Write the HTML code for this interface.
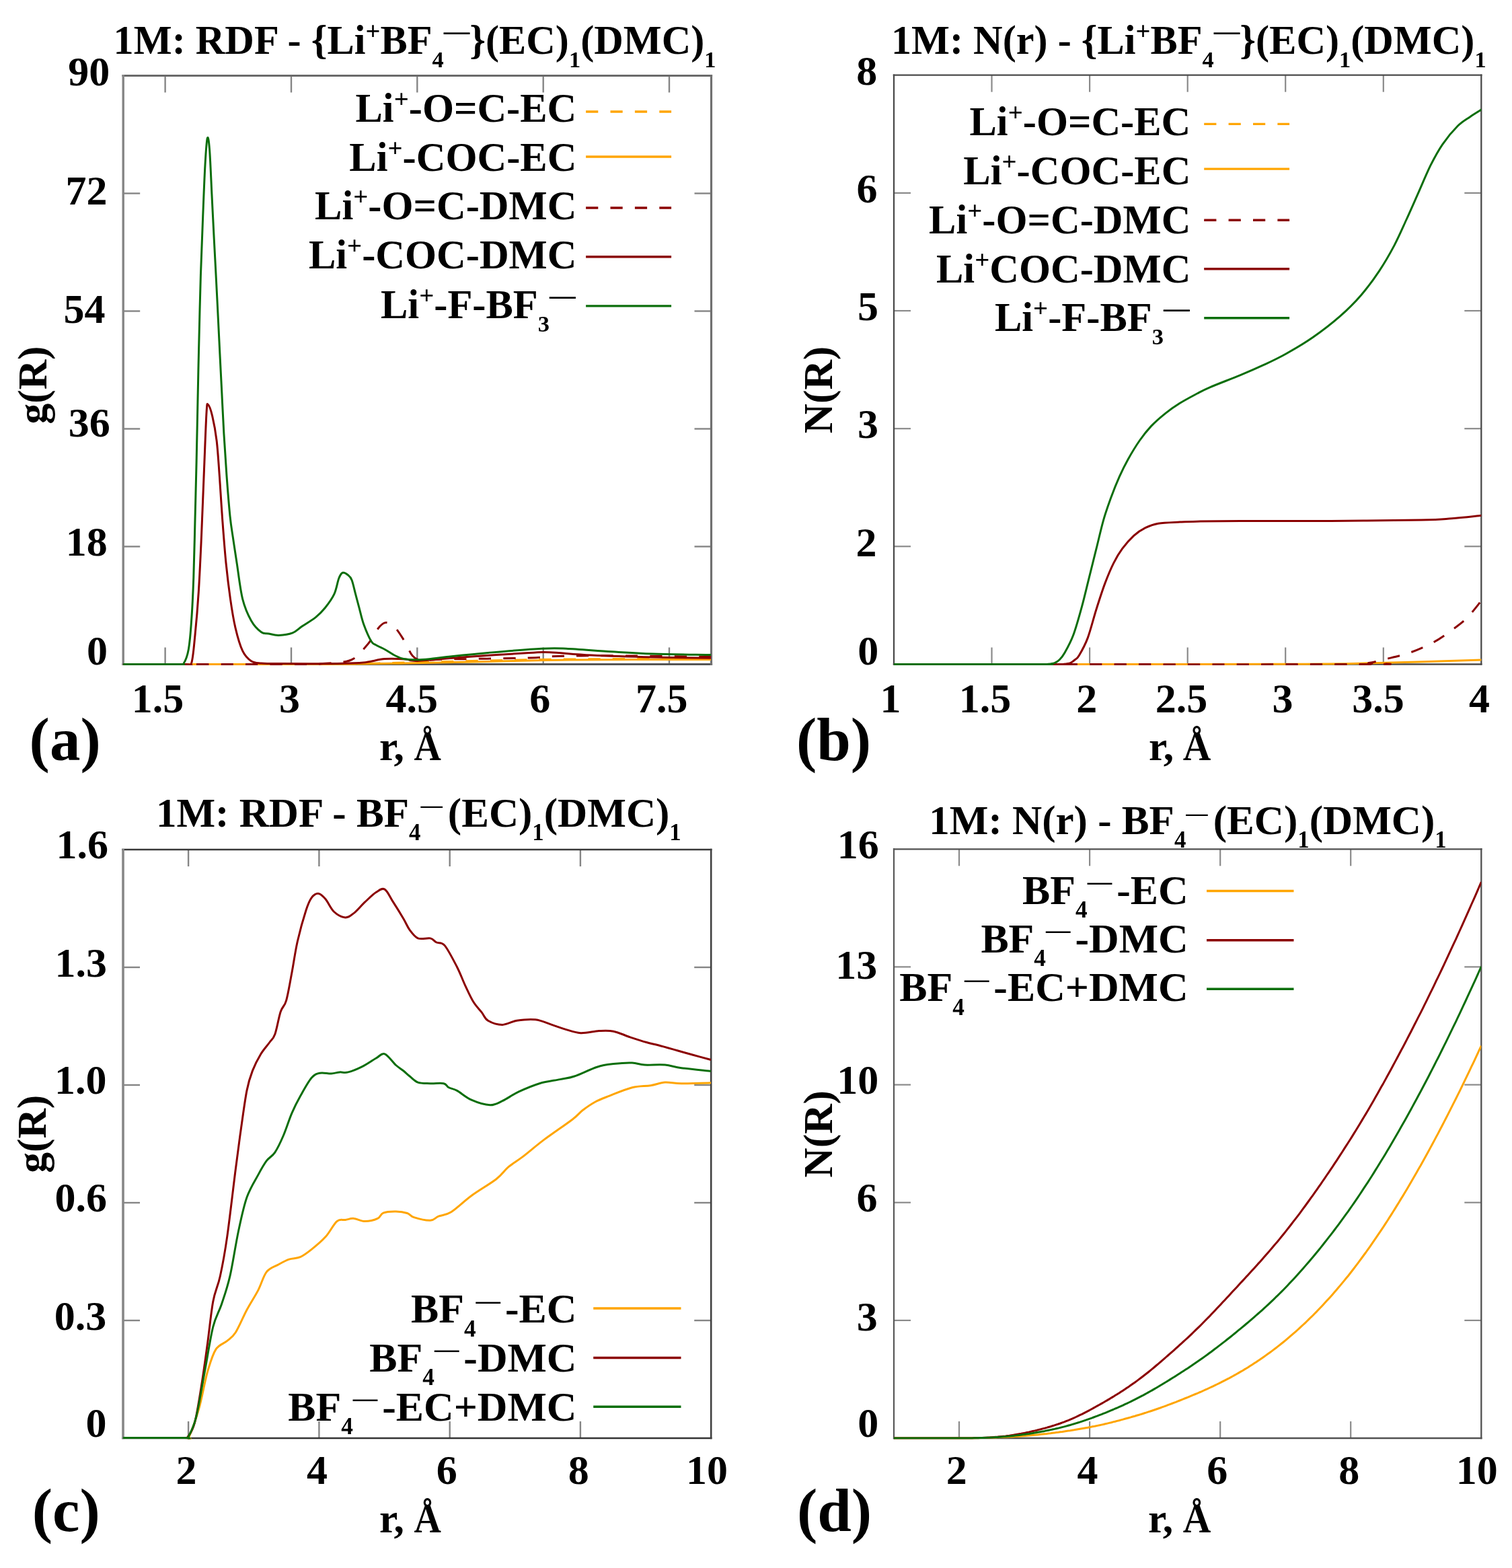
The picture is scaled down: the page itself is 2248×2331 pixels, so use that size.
<!DOCTYPE html>
<html><head><meta charset="utf-8"><style>
html,body{margin:0;padding:0;background:#fff;}
svg{display:block;}
text{font-family:"Liberation Serif", serif;font-weight:bold;fill:#000;}
</style></head><body>
<svg width="2248" height="2331" viewBox="0 0 2248 2331">
<rect width="2248" height="2331" fill="#fff"/>
<defs><clipPath id="ca"><rect x="183.2" y="112.5" width="874.3" height="876.5"/></clipPath><clipPath id="cb"><rect x="1329" y="111.7" width="873.3000000000002" height="877.3"/></clipPath><clipPath id="cc"><rect x="183.0" y="1263" width="874.2" height="876.5"/></clipPath><clipPath id="cd"><rect x="1329" y="1262.3" width="873.3000000000002" height="877.2"/></clipPath></defs>
<line x1="245.6" y1="112.5" x2="245.6" y2="137.5" stroke="#858585" stroke-width="2.4"/>
<line x1="433.0" y1="112.5" x2="433.0" y2="137.5" stroke="#858585" stroke-width="2.4"/>
<line x1="620.3" y1="112.5" x2="620.3" y2="137.5" stroke="#858585" stroke-width="2.4"/>
<line x1="807.7" y1="112.5" x2="807.7" y2="137.5" stroke="#858585" stroke-width="2.4"/>
<line x1="995.0" y1="112.5" x2="995.0" y2="137.5" stroke="#858585" stroke-width="2.4"/>
<line x1="245.6" y1="987.5" x2="245.6" y2="962.5" stroke="#858585" stroke-width="2.4"/>
<line x1="433.0" y1="987.5" x2="433.0" y2="962.5" stroke="#858585" stroke-width="2.4"/>
<line x1="620.3" y1="987.5" x2="620.3" y2="962.5" stroke="#858585" stroke-width="2.4"/>
<line x1="807.7" y1="987.5" x2="807.7" y2="962.5" stroke="#858585" stroke-width="2.4"/>
<line x1="995.0" y1="987.5" x2="995.0" y2="962.5" stroke="#858585" stroke-width="2.4"/>
<line x1="183.2" y1="812.5" x2="208.2" y2="812.5" stroke="#858585" stroke-width="2.4"/>
<line x1="183.2" y1="637.5" x2="208.2" y2="637.5" stroke="#858585" stroke-width="2.4"/>
<line x1="183.2" y1="462.5" x2="208.2" y2="462.5" stroke="#858585" stroke-width="2.4"/>
<line x1="183.2" y1="287.5" x2="208.2" y2="287.5" stroke="#858585" stroke-width="2.4"/>
<line x1="1057.5" y1="812.5" x2="1032.5" y2="812.5" stroke="#858585" stroke-width="2.4"/>
<line x1="1057.5" y1="637.5" x2="1032.5" y2="637.5" stroke="#858585" stroke-width="2.4"/>
<line x1="1057.5" y1="462.5" x2="1032.5" y2="462.5" stroke="#858585" stroke-width="2.4"/>
<line x1="1057.5" y1="287.5" x2="1032.5" y2="287.5" stroke="#858585" stroke-width="2.4"/>
<line x1="1474.5" y1="111.7" x2="1474.5" y2="136.7" stroke="#8a8a8a" stroke-width="2.2"/>
<line x1="1620.1" y1="111.7" x2="1620.1" y2="136.7" stroke="#8a8a8a" stroke-width="2.2"/>
<line x1="1765.7" y1="111.7" x2="1765.7" y2="136.7" stroke="#8a8a8a" stroke-width="2.2"/>
<line x1="1911.2" y1="111.7" x2="1911.2" y2="136.7" stroke="#8a8a8a" stroke-width="2.2"/>
<line x1="2056.8" y1="111.7" x2="2056.8" y2="136.7" stroke="#8a8a8a" stroke-width="2.2"/>
<line x1="1474.5" y1="987.5" x2="1474.5" y2="962.5" stroke="#8a8a8a" stroke-width="2.2"/>
<line x1="1620.1" y1="987.5" x2="1620.1" y2="962.5" stroke="#8a8a8a" stroke-width="2.2"/>
<line x1="1765.7" y1="987.5" x2="1765.7" y2="962.5" stroke="#8a8a8a" stroke-width="2.2"/>
<line x1="1911.2" y1="987.5" x2="1911.2" y2="962.5" stroke="#8a8a8a" stroke-width="2.2"/>
<line x1="2056.8" y1="987.5" x2="2056.8" y2="962.5" stroke="#8a8a8a" stroke-width="2.2"/>
<line x1="1329.0" y1="812.3" x2="1354.0" y2="812.3" stroke="#8a8a8a" stroke-width="2.2"/>
<line x1="1329.0" y1="637.2" x2="1354.0" y2="637.2" stroke="#8a8a8a" stroke-width="2.2"/>
<line x1="1329.0" y1="462.0" x2="1354.0" y2="462.0" stroke="#8a8a8a" stroke-width="2.2"/>
<line x1="1329.0" y1="286.9" x2="1354.0" y2="286.9" stroke="#8a8a8a" stroke-width="2.2"/>
<line x1="2202.3" y1="812.3" x2="2177.3" y2="812.3" stroke="#8a8a8a" stroke-width="2.2"/>
<line x1="2202.3" y1="637.2" x2="2177.3" y2="637.2" stroke="#8a8a8a" stroke-width="2.2"/>
<line x1="2202.3" y1="462.0" x2="2177.3" y2="462.0" stroke="#8a8a8a" stroke-width="2.2"/>
<line x1="2202.3" y1="286.9" x2="2177.3" y2="286.9" stroke="#8a8a8a" stroke-width="2.2"/>
<line x1="280.1" y1="1263.0" x2="280.1" y2="1288.0" stroke="#858585" stroke-width="2.4"/>
<line x1="474.4" y1="1263.0" x2="474.4" y2="1288.0" stroke="#858585" stroke-width="2.4"/>
<line x1="668.7" y1="1263.0" x2="668.7" y2="1288.0" stroke="#858585" stroke-width="2.4"/>
<line x1="862.9" y1="1263.0" x2="862.9" y2="1288.0" stroke="#858585" stroke-width="2.4"/>
<line x1="280.1" y1="2138.0" x2="280.1" y2="2113.0" stroke="#858585" stroke-width="2.4"/>
<line x1="474.4" y1="2138.0" x2="474.4" y2="2113.0" stroke="#858585" stroke-width="2.4"/>
<line x1="668.7" y1="2138.0" x2="668.7" y2="2113.0" stroke="#858585" stroke-width="2.4"/>
<line x1="862.9" y1="2138.0" x2="862.9" y2="2113.0" stroke="#858585" stroke-width="2.4"/>
<line x1="183.0" y1="1963.0" x2="208.0" y2="1963.0" stroke="#858585" stroke-width="2.4"/>
<line x1="183.0" y1="1788.0" x2="208.0" y2="1788.0" stroke="#858585" stroke-width="2.4"/>
<line x1="183.0" y1="1613.0" x2="208.0" y2="1613.0" stroke="#858585" stroke-width="2.4"/>
<line x1="183.0" y1="1438.0" x2="208.0" y2="1438.0" stroke="#858585" stroke-width="2.4"/>
<line x1="1057.2" y1="1963.0" x2="1032.2" y2="1963.0" stroke="#858585" stroke-width="2.4"/>
<line x1="1057.2" y1="1788.0" x2="1032.2" y2="1788.0" stroke="#858585" stroke-width="2.4"/>
<line x1="1057.2" y1="1613.0" x2="1032.2" y2="1613.0" stroke="#858585" stroke-width="2.4"/>
<line x1="1057.2" y1="1438.0" x2="1032.2" y2="1438.0" stroke="#858585" stroke-width="2.4"/>
<line x1="1426.0" y1="1262.3" x2="1426.0" y2="1287.3" stroke="#8a8a8a" stroke-width="2.2"/>
<line x1="1620.1" y1="1262.3" x2="1620.1" y2="1287.3" stroke="#8a8a8a" stroke-width="2.2"/>
<line x1="1814.2" y1="1262.3" x2="1814.2" y2="1287.3" stroke="#8a8a8a" stroke-width="2.2"/>
<line x1="2008.2" y1="1262.3" x2="2008.2" y2="1287.3" stroke="#8a8a8a" stroke-width="2.2"/>
<line x1="1426.0" y1="2138.0" x2="1426.0" y2="2113.0" stroke="#8a8a8a" stroke-width="2.2"/>
<line x1="1620.1" y1="2138.0" x2="1620.1" y2="2113.0" stroke="#8a8a8a" stroke-width="2.2"/>
<line x1="1814.2" y1="2138.0" x2="1814.2" y2="2113.0" stroke="#8a8a8a" stroke-width="2.2"/>
<line x1="2008.2" y1="2138.0" x2="2008.2" y2="2113.0" stroke="#8a8a8a" stroke-width="2.2"/>
<line x1="1329.0" y1="1962.9" x2="1354.0" y2="1962.9" stroke="#8a8a8a" stroke-width="2.2"/>
<line x1="1329.0" y1="1787.7" x2="1354.0" y2="1787.7" stroke="#8a8a8a" stroke-width="2.2"/>
<line x1="1329.0" y1="1612.6" x2="1354.0" y2="1612.6" stroke="#8a8a8a" stroke-width="2.2"/>
<line x1="1329.0" y1="1437.4" x2="1354.0" y2="1437.4" stroke="#8a8a8a" stroke-width="2.2"/>
<line x1="2202.3" y1="1962.9" x2="2177.3" y2="1962.9" stroke="#8a8a8a" stroke-width="2.2"/>
<line x1="2202.3" y1="1787.7" x2="2177.3" y2="1787.7" stroke="#8a8a8a" stroke-width="2.2"/>
<line x1="2202.3" y1="1612.6" x2="2177.3" y2="1612.6" stroke="#8a8a8a" stroke-width="2.2"/>
<line x1="2202.3" y1="1437.4" x2="2177.3" y2="1437.4" stroke="#8a8a8a" stroke-width="2.2"/>
<line x1="181.5" y1="112.5" x2="1059.1" y2="112.5" stroke="#6a6a6a" stroke-width="3.2"/>
<line x1="181.5" y1="987.5" x2="1059.1" y2="987.5" stroke="#555555" stroke-width="3.2"/>
<line x1="183.2" y1="110.9" x2="183.2" y2="989.1" stroke="#858585" stroke-width="3.4"/>
<line x1="1057.5" y1="110.9" x2="1057.5" y2="989.1" stroke="#707070" stroke-width="3.2"/>
<line x1="1327.8" y1="111.7" x2="2203.5" y2="111.7" stroke="#4a4a4a" stroke-width="2.3"/>
<line x1="1327.8" y1="987.5" x2="2203.5" y2="987.5" stroke="#4a4a4a" stroke-width="2.3"/>
<line x1="1329.0" y1="110.5" x2="1329.0" y2="988.6" stroke="#4a4a4a" stroke-width="2.3"/>
<line x1="2202.3" y1="110.5" x2="2202.3" y2="988.6" stroke="#4a4a4a" stroke-width="2.3"/>
<line x1="181.2" y1="1263.0" x2="1058.5" y2="1263.0" stroke="#383838" stroke-width="2.6"/>
<line x1="181.2" y1="2138.0" x2="1058.5" y2="2138.0" stroke="#333333" stroke-width="2.6"/>
<line x1="183.0" y1="1261.7" x2="183.0" y2="2139.3" stroke="#878787" stroke-width="3.6"/>
<line x1="1057.2" y1="1261.7" x2="1057.2" y2="2139.3" stroke="#404040" stroke-width="2.6"/>
<line x1="1327.9" y1="1262.3" x2="2203.5" y2="1262.3" stroke="#505050" stroke-width="2.3"/>
<line x1="1327.9" y1="2138.0" x2="2203.5" y2="2138.0" stroke="#505050" stroke-width="2.3"/>
<line x1="1329.0" y1="1261.1" x2="1329.0" y2="2139.2" stroke="#585858" stroke-width="2.2"/>
<line x1="2202.3" y1="1261.1" x2="2202.3" y2="2139.2" stroke="#505050" stroke-width="2.3"/>
<path d="M183.0,987.5 C232.5,987.5 410.0,987.5 480.0,987.3 C550.0,987.0 562.2,986.6 603.0,986.0 C643.8,985.4 684.2,984.3 725.0,983.5 C765.8,982.7 792.7,981.5 848.0,981.0 C903.3,980.5 1022.2,980.6 1057.0,980.5" fill="none" stroke="#ffa500" stroke-width="3.0" stroke-linejoin="round" stroke-linecap="butt" clip-path="url(#ca)"/>
<path d="M183.0,987.5 C232.5,987.5 410.0,987.7 480.0,987.3 C550.0,986.9 562.2,985.9 603.0,985.0 C643.8,984.1 684.2,982.8 725.0,982.0 C765.8,981.2 792.7,980.5 848.0,980.0 C903.3,979.5 1022.2,979.2 1057.0,979.0" fill="none" stroke="#ffa500" stroke-width="3.0" stroke-linejoin="round" stroke-linecap="butt" stroke-dasharray="18.2,18.2" clip-path="url(#ca)"/>
<path d="M183.0,987.5 C225.8,987.5 390.5,987.7 440.0,987.5 C489.5,987.3 468.2,987.1 480.0,986.5 C491.8,985.9 503.0,985.2 510.7,984.0 C518.4,982.8 520.9,982.3 526.0,979.0 C531.1,975.7 536.8,969.0 541.4,964.0 C546.0,959.0 550.0,954.0 553.6,948.9 C557.2,943.8 559.7,937.3 562.8,933.5 C565.9,929.7 569.0,926.8 572.0,925.9 C575.0,925.0 577.9,926.2 581.0,928.0 C584.1,929.8 586.9,932.1 590.5,936.6 C594.1,941.1 597.9,947.8 602.7,955.0 C607.6,962.2 609.4,975.4 619.6,979.6 C629.8,983.8 636.1,980.3 664.0,980.0 C691.9,979.7 761.3,978.7 787.0,978.0 C812.7,977.3 805.2,976.3 818.0,975.8 C830.8,975.3 843.7,975.0 864.0,974.9 C884.3,974.8 907.8,974.7 940.0,975.0 C972.2,975.3 1037.5,976.2 1057.0,976.5" fill="none" stroke="#8b0000" stroke-width="3.0" stroke-linejoin="round" stroke-linecap="butt" stroke-dasharray="18.2,18.2" clip-path="url(#ca)"/>
<path d="M183.0,987.5 C198.3,987.5 258.1,987.8 275.0,987.5 C291.9,987.2 282.1,993.0 284.6,985.8 C287.1,978.6 288.2,961.8 290.0,944.1 C291.8,926.5 293.7,904.9 295.3,879.9 C296.9,854.9 298.2,826.3 299.6,794.2 C301.0,762.1 302.6,717.5 303.9,687.1 C305.1,656.8 306.2,626.4 307.1,612.1 C308.0,597.8 307.9,600.3 309.3,601.4 C310.7,602.5 313.6,609.7 315.7,618.6 C317.8,627.5 320.3,640.0 322.1,655.0 C323.9,670.0 325.0,688.9 326.4,708.5 C327.8,728.1 329.1,751.4 330.7,772.8 C332.3,794.2 334.0,817.4 336.0,837.0 C338.0,856.6 340.2,874.5 342.5,890.6 C344.8,906.7 347.0,920.5 350.0,933.4 C353.0,946.2 356.8,959.5 360.7,967.7 C364.6,975.9 368.9,979.7 373.5,982.7 C378.1,985.7 380.8,985.3 388.5,985.9 C396.2,986.5 401.4,986.4 420.0,986.5 C438.6,986.6 480.0,986.8 500.0,986.5 C520.0,986.2 528.0,986.1 540.0,985.0 C552.0,983.9 561.5,980.4 572.0,979.6 C582.5,978.8 594.8,979.5 603.0,980.0 C611.2,980.5 605.7,983.1 621.0,982.5 C636.3,981.9 667.3,978.5 695.0,976.5 C722.7,974.5 766.6,971.6 787.0,970.5 C807.4,969.4 802.2,969.1 817.5,969.7 C832.8,970.3 853.4,972.8 879.0,974.0 C904.6,975.2 941.3,976.3 971.0,977.0 C1000.7,977.7 1042.7,978.1 1057.0,978.3" fill="none" stroke="#8b0000" stroke-width="3.0" stroke-linejoin="round" stroke-linecap="butt" clip-path="url(#ca)"/>
<path d="M183.0,987.5 C196.7,987.5 250.0,987.7 265.0,987.5 C280.0,987.3 270.3,990.2 272.9,986.5 C275.4,982.8 278.4,976.1 280.3,965.5 C282.2,954.9 283.4,940.6 284.6,922.7 C285.9,904.9 286.9,883.4 287.8,858.4 C288.7,833.4 289.3,801.3 290.0,772.8 C290.7,744.2 291.4,719.2 292.1,687.1 C292.8,655.0 293.7,608.0 294.3,580.0 C294.9,552.0 294.9,547.6 295.6,519.2 C296.3,490.8 297.4,442.3 298.4,409.4 C299.4,376.5 300.6,349.1 301.7,321.7 C302.8,294.3 303.9,264.3 305.0,244.9 C306.1,225.5 307.2,209.1 308.3,205.4 C309.4,201.7 310.5,209.0 311.6,222.9 C312.7,236.8 313.8,266.8 314.9,288.7 C316.0,310.6 317.2,336.1 318.2,354.6 C319.1,373.2 319.7,382.2 320.6,400.0 C321.5,417.8 322.7,440.8 323.7,461.2 C324.7,481.6 325.7,502.0 326.7,522.4 C327.7,542.8 328.8,563.3 329.8,583.7 C330.8,604.1 331.7,624.5 332.9,644.9 C334.1,665.3 335.4,685.7 336.9,706.1 C338.4,726.5 340.4,751.6 342.0,767.3 C343.6,782.9 344.8,788.4 346.5,800.0 C348.2,811.6 349.7,821.9 352.1,837.0 C354.5,852.1 357.1,876.3 360.7,890.6 C364.3,904.9 368.9,914.5 373.5,922.7 C378.1,930.9 384.2,936.6 388.5,939.8 C392.8,943.0 394.9,941.2 399.2,942.0 C403.5,942.8 408.4,944.6 414.4,944.4 C420.4,944.2 429.3,943.1 435.0,940.9 C440.7,938.7 443.1,935.2 448.8,931.3 C454.5,927.4 463.7,922.2 469.4,917.6 C475.1,913.0 478.6,909.5 483.2,903.8 C487.8,898.1 493.5,890.5 496.9,883.2 C500.3,875.9 501.7,865.1 503.8,859.8 C505.9,854.5 507.0,852.3 509.3,851.5 C511.6,850.7 515.3,853.2 517.6,855.0 C519.9,856.8 521.3,857.8 523.1,862.5 C524.9,867.2 526.8,876.3 528.6,883.2 C530.4,890.1 532.1,896.2 534.1,903.8 C536.1,911.4 537.9,920.4 540.9,928.6 C543.9,936.9 548.9,948.3 551.9,953.3 C554.9,958.3 555.3,956.7 558.8,958.8 C562.2,960.9 568.0,963.2 572.6,965.7 C577.2,968.2 581.7,971.7 586.3,974.0 C590.9,976.3 594.4,978.4 600.1,979.5 C605.8,980.6 614.1,980.8 620.7,980.8 C627.4,980.8 632.8,980.2 640.0,979.5 C647.2,978.8 649.9,978.0 664.1,976.5 C678.4,975.0 702.0,972.4 725.5,970.4 C749.0,968.4 785.8,965.2 805.2,964.2 C824.6,963.2 824.6,963.4 842.0,964.2 C859.4,965.0 888.1,967.5 909.6,968.8 C931.1,970.1 946.4,971.2 971.0,972.0 C995.6,972.8 1042.7,973.2 1057.0,973.5" fill="none" stroke="#0b6e0b" stroke-width="3.0" stroke-linejoin="round" stroke-linecap="butt" clip-path="url(#ca)"/>
<path d="M1329.0,987.5 C1424.2,987.5 1779.8,987.6 1900.0,987.3 C2020.2,987.0 1999.5,986.5 2050.0,985.5 C2100.5,984.5 2177.7,981.8 2203.2,981.0" fill="none" stroke="#ffa500" stroke-width="3.0" stroke-linejoin="round" stroke-linecap="butt" clip-path="url(#cb)"/>
<path d="M1329.0,987.5 C1442.5,987.5 1892.3,987.8 2010.0,987.5 C2127.7,987.2 2026.7,986.8 2035.0,985.5 C2043.3,984.2 2049.5,982.5 2059.6,980.0 C2069.7,977.5 2083.5,974.7 2095.5,970.5 C2107.5,966.3 2120.9,960.4 2131.4,954.8 C2141.9,949.2 2150.2,942.9 2158.4,936.9 C2166.6,930.9 2173.3,926.4 2180.8,918.9 C2188.3,911.4 2199.5,896.5 2203.2,892.0" fill="none" stroke="#8b0000" stroke-width="3.0" stroke-linejoin="round" stroke-linecap="butt" stroke-dasharray="18.2,18.2" clip-path="url(#cb)"/>
<path d="M1329.0,987.5 C1369.2,987.5 1527.8,987.5 1570.0,987.5 C1612.2,987.5 1578.4,987.5 1582.0,987.2 C1585.6,986.9 1588.7,986.6 1591.4,985.6 C1594.1,984.6 1595.8,982.9 1598.0,981.0 C1600.2,979.1 1601.1,979.9 1604.3,974.5 C1607.5,969.1 1612.8,960.1 1617.1,948.6 C1621.4,937.1 1625.7,919.3 1630.0,905.7 C1634.3,892.1 1638.6,878.5 1642.9,867.1 C1647.2,855.7 1651.4,845.7 1655.7,837.1 C1660.0,828.5 1663.6,822.5 1668.6,815.7 C1673.6,808.9 1680.0,801.6 1685.7,796.4 C1691.4,791.2 1696.8,787.6 1702.9,784.6 C1709.0,781.6 1713.5,779.6 1722.1,778.2 C1730.7,776.8 1744.6,776.6 1754.3,776.1 C1764.0,775.6 1765.0,775.5 1780.0,775.2 C1795.0,774.9 1811.1,774.5 1844.2,774.4 C1877.3,774.3 1933.9,774.6 1978.8,774.4 C2023.7,774.2 2083.6,773.7 2113.5,773.1 C2143.4,772.5 2143.5,771.9 2158.4,770.8 C2173.3,769.7 2195.7,767.0 2203.2,766.3" fill="none" stroke="#8b0000" stroke-width="3.0" stroke-linejoin="round" stroke-linecap="butt" clip-path="url(#cb)"/>
<path d="M1329.0,987.5 C1365.0,987.5 1506.8,987.5 1545.0,987.5 C1583.2,987.5 1554.2,987.5 1558.0,987.2 C1561.8,986.9 1565.0,986.7 1567.9,985.6 C1570.8,984.5 1573.0,983.0 1575.5,980.5 C1578.0,978.0 1579.5,976.5 1582.9,970.5 C1586.3,964.5 1591.4,955.8 1595.7,944.3 C1600.0,932.8 1604.7,915.7 1608.6,901.4 C1612.5,887.1 1615.7,872.9 1619.3,858.6 C1622.9,844.3 1626.4,830.0 1630.0,815.7 C1633.6,801.4 1637.1,785.3 1640.7,772.8 C1644.3,760.3 1647.5,751.4 1651.4,740.7 C1655.3,730.0 1660.0,718.2 1664.3,708.6 C1668.6,699.0 1672.1,691.8 1677.1,682.9 C1682.1,674.0 1688.6,663.2 1694.3,655.0 C1700.0,646.8 1705.0,640.4 1711.4,633.6 C1717.8,626.8 1725.8,620.0 1732.9,614.3 C1740.1,608.6 1746.5,604.2 1754.3,599.3 C1762.1,594.4 1772.5,589.0 1780.0,585.0 C1787.5,581.0 1788.6,580.2 1799.3,575.6 C1810.0,571.0 1830.7,563.2 1844.2,557.6 C1857.7,552.0 1868.9,547.1 1880.1,541.9 C1891.3,536.7 1899.5,532.9 1911.5,526.2 C1923.5,519.5 1938.4,510.9 1951.9,501.5 C1965.4,492.1 1980.3,480.6 1992.3,470.1 C2004.3,459.6 2014.0,449.9 2023.7,438.7 C2033.4,427.5 2042.4,415.1 2050.6,402.8 C2058.8,390.5 2066.4,377.3 2073.1,364.6 C2079.8,351.9 2085.0,339.6 2091.0,326.5 C2097.0,313.4 2103.0,299.6 2109.0,286.1 C2115.0,272.6 2121.0,257.7 2127.0,245.7 C2133.0,233.7 2138.2,224.0 2144.9,214.3 C2151.6,204.6 2160.6,194.0 2167.3,187.3 C2174.0,180.6 2179.3,178.0 2185.3,173.9 C2191.3,169.8 2200.2,164.5 2203.2,162.6" fill="none" stroke="#0b6e0b" stroke-width="3.0" stroke-linejoin="round" stroke-linecap="butt" clip-path="url(#cb)"/>
<path d="M183.0,2137.5 C198.3,2137.5 258.7,2137.8 275.0,2137.5 C291.3,2137.2 277.5,2143.3 281.0,2136.0 C284.5,2128.7 291.3,2109.8 295.9,2093.7 C300.5,2077.6 304.3,2054.0 308.5,2039.4 C312.7,2024.8 316.1,2013.6 321.0,2005.9 C325.9,1998.2 332.8,1997.6 337.7,1993.4 C342.6,1989.2 345.4,1988.5 350.3,1980.8 C355.2,1973.1 361.4,1957.8 367.0,1947.3 C372.6,1936.8 378.9,1927.5 383.8,1918.1 C388.7,1908.7 391.4,1897.2 396.3,1890.9 C401.2,1884.6 407.4,1883.5 413.0,1880.4 C418.6,1877.3 424.2,1874.0 429.8,1872.1 C435.4,1870.1 440.9,1871.2 446.5,1868.7 C452.1,1866.2 456.9,1862.4 463.2,1857.4 C469.5,1852.4 477.8,1845.6 484.1,1838.6 C490.4,1831.6 496.0,1819.8 500.9,1815.6 C505.8,1811.4 509.2,1814.2 513.4,1813.5 C517.6,1812.8 521.1,1811.1 526.0,1811.4 C530.9,1811.8 536.8,1815.6 542.7,1815.6 C548.6,1815.6 557.0,1813.5 561.5,1811.4 C566.0,1809.3 565.4,1804.8 569.9,1803.1 C574.4,1801.4 582.8,1800.9 588.7,1801.0 C594.6,1801.1 601.0,1802.1 605.4,1803.5 C609.8,1804.9 609.6,1807.8 615.3,1809.6 C621.0,1811.4 633.7,1814.5 639.8,1814.2 C645.9,1814.0 646.9,1810.1 652.0,1808.1 C657.1,1806.1 662.2,1807.1 670.4,1802.0 C678.6,1796.9 689.8,1785.7 701.0,1777.5 C712.2,1769.3 728.5,1760.1 737.7,1753.0 C746.9,1745.9 749.5,1740.3 756.1,1734.7 C762.7,1729.1 768.8,1726.0 777.5,1719.4 C786.2,1712.8 795.9,1704.1 808.1,1694.9 C820.4,1685.7 841.3,1671.6 851.0,1664.2 C860.7,1656.8 860.7,1654.8 866.3,1650.5 C871.9,1646.2 878.1,1641.8 884.7,1638.2 C891.3,1634.6 896.9,1632.7 906.1,1629.1 C915.3,1625.5 929.6,1619.4 939.8,1616.8 C950.0,1614.2 959.1,1615.0 967.3,1613.7 C975.4,1612.4 981.1,1609.6 988.7,1609.1 C996.4,1608.6 1001.8,1610.6 1013.2,1610.7 C1024.6,1610.8 1049.7,1610.0 1057.0,1609.8" fill="none" stroke="#ffa500" stroke-width="3.0" stroke-linejoin="round" stroke-linecap="butt" clip-path="url(#cc)"/>
<path d="M183.0,2137.5 C197.8,2137.5 256.0,2137.8 272.0,2137.5 C288.0,2137.2 276.3,2139.8 279.2,2136.0 C282.1,2132.2 286.1,2127.9 289.6,2114.6 C293.1,2101.3 297.0,2075.6 300.1,2056.1 C303.2,2036.6 305.7,2017.7 308.5,1997.5 C311.3,1977.3 313.7,1951.5 316.8,1934.8 C319.9,1918.1 323.8,1913.2 327.3,1897.2 C330.8,1881.2 333.9,1865.1 337.7,1838.6 C341.5,1812.1 346.8,1765.4 350.3,1738.2 C353.8,1711.0 355.9,1695.0 358.7,1675.5 C361.5,1656.0 364.2,1635.0 367.0,1621.1 C369.8,1607.2 371.9,1601.0 375.4,1591.9 C378.9,1582.9 383.7,1573.8 387.9,1566.8 C392.1,1559.8 397.0,1554.9 400.5,1550.0 C404.0,1545.1 406.0,1545.2 408.8,1537.5 C411.6,1529.8 414.4,1512.4 417.2,1504.0 C420.0,1495.6 422.8,1497.0 425.6,1487.3 C428.4,1477.5 431.2,1460.1 434.0,1445.5 C436.8,1430.9 438.8,1414.8 442.3,1399.5 C445.8,1384.2 451.4,1364.3 454.9,1353.5 C458.4,1342.7 460.1,1338.8 463.2,1334.6 C466.3,1330.4 470.2,1328.1 473.7,1328.4 C477.2,1328.8 480.3,1332.2 484.1,1336.7 C487.9,1341.2 491.8,1351.0 496.7,1355.5 C501.6,1360.0 508.5,1363.6 513.4,1363.9 C518.3,1364.2 521.1,1361.4 526.0,1357.6 C530.9,1353.8 537.1,1346.1 542.7,1340.9 C548.3,1335.7 554.5,1329.4 559.4,1326.3 C564.3,1323.2 567.8,1319.7 572.0,1322.1 C576.2,1324.5 579.8,1333.6 584.5,1340.9 C589.2,1348.2 595.9,1359.0 600.0,1366.0 C604.1,1373.0 605.6,1377.8 609.2,1382.6 C612.8,1387.4 616.3,1392.9 621.4,1394.9 C626.5,1397.0 635.2,1393.9 639.8,1394.9 C644.4,1395.9 645.4,1399.2 649.0,1401.0 C652.6,1402.8 656.1,1399.5 661.2,1405.6 C666.3,1411.7 674.5,1427.8 679.6,1437.7 C684.7,1447.7 687.7,1456.6 691.8,1465.3 C695.9,1474.0 700.0,1483.2 704.1,1489.8 C708.2,1496.4 712.7,1500.5 716.3,1505.1 C719.9,1509.7 720.4,1514.2 725.5,1517.3 C730.6,1520.3 739.8,1523.4 746.9,1523.4 C754.0,1523.4 760.1,1518.6 768.3,1517.3 C776.5,1516.0 787.2,1514.8 795.9,1515.8 C804.6,1516.8 813.3,1521.1 820.4,1523.4 C827.5,1525.7 831.6,1527.5 838.7,1529.6 C845.8,1531.6 854.5,1535.2 863.2,1535.7 C871.9,1536.2 882.6,1533.0 890.8,1532.6 C899.0,1532.2 904.6,1531.7 912.2,1533.2 C919.9,1534.7 928.5,1539.1 936.7,1541.8 C944.9,1544.5 954.1,1547.5 961.2,1549.5 C968.3,1551.5 971.9,1552.0 979.5,1554.0 C987.1,1556.0 998.9,1559.4 1007.1,1561.7 C1015.3,1564.0 1020.2,1565.5 1028.5,1567.8 C1036.8,1570.1 1052.2,1574.2 1057.0,1575.5" fill="none" stroke="#8b0000" stroke-width="3.0" stroke-linejoin="round" stroke-linecap="butt" clip-path="url(#cc)"/>
<path d="M183.0,2137.5 C198.2,2137.5 257.8,2137.8 274.0,2137.5 C290.2,2137.2 277.1,2141.2 280.0,2136.0 C282.9,2130.8 287.6,2122.4 291.7,2106.3 C295.8,2090.2 300.1,2061.7 304.3,2039.4 C308.5,2017.1 312.6,1989.1 316.8,1972.4 C321.0,1955.7 325.2,1951.5 329.4,1939.0 C333.6,1926.5 337.7,1915.3 341.9,1897.2 C346.1,1879.1 350.3,1849.7 354.5,1830.2 C358.7,1810.7 362.1,1793.9 367.0,1780.0 C371.9,1766.1 378.9,1755.6 383.8,1746.6 C388.7,1737.5 392.1,1731.3 396.3,1725.7 C400.5,1720.1 404.6,1719.4 408.8,1713.1 C413.0,1706.8 417.2,1697.8 421.4,1688.0 C425.6,1678.2 429.8,1664.3 434.0,1654.6 C438.2,1644.8 441.6,1638.2 446.5,1629.5 C451.4,1620.8 458.3,1608.0 463.2,1602.3 C468.1,1596.6 470.9,1596.2 475.8,1595.2 C480.7,1594.2 487.6,1596.2 492.5,1596.0 C497.4,1595.8 500.8,1594.2 505.0,1593.9 C509.2,1593.6 512.0,1595.3 517.6,1593.9 C523.2,1592.5 531.5,1589.1 538.5,1585.6 C545.5,1582.1 553.8,1576.1 559.4,1573.0 C565.0,1569.9 567.1,1565.0 572.0,1566.8 C576.9,1568.5 584.0,1579.3 588.7,1583.5 C593.4,1587.7 596.6,1589.2 600.0,1592.0 C603.4,1594.8 605.6,1597.2 609.2,1600.0 C612.8,1602.8 616.3,1607.3 621.4,1609.1 C626.5,1610.9 633.4,1610.4 639.8,1610.7 C646.2,1611.0 655.1,1609.7 659.7,1610.7 C664.3,1611.7 664.0,1615.0 667.3,1616.8 C670.6,1618.6 674.0,1618.3 679.6,1621.4 C685.2,1624.5 692.8,1631.6 701.0,1635.2 C709.2,1638.8 721.0,1642.5 728.6,1642.8 C736.2,1643.0 739.8,1640.0 746.9,1636.7 C754.0,1633.4 762.2,1627.2 771.4,1622.9 C780.6,1618.6 791.8,1613.8 802.0,1610.7 C812.2,1607.7 823.9,1606.4 832.6,1604.6 C841.3,1602.8 844.8,1603.1 854.0,1600.0 C863.2,1596.9 878.0,1589.3 887.7,1586.2 C897.4,1583.1 903.5,1582.6 912.2,1581.6 C920.9,1580.6 932.1,1579.8 939.8,1580.1 C947.4,1580.3 950.0,1582.6 958.1,1583.1 C966.2,1583.6 979.5,1582.3 988.7,1583.1 C997.9,1583.9 1001.8,1586.2 1013.2,1587.7 C1024.6,1589.2 1049.7,1591.5 1057.0,1592.3" fill="none" stroke="#0b6e0b" stroke-width="3.0" stroke-linejoin="round" stroke-linecap="butt" clip-path="url(#cc)"/>
<path d="M1329.0,2138.0 L1331.9,2138.0 L1334.8,2138.0 L1337.7,2138.0 L1340.6,2138.0 L1343.6,2138.0 L1346.5,2138.0 L1349.4,2138.0 L1352.3,2138.0 L1355.2,2138.0 L1358.1,2138.0 L1361.0,2138.0 L1363.9,2138.0 L1366.8,2138.0 L1369.8,2138.0 L1372.7,2138.0 L1375.6,2138.0 L1378.5,2138.0 L1381.4,2138.0 L1384.3,2138.0 L1387.2,2138.0 L1390.1,2138.0 L1393.0,2138.0 L1396.0,2138.0 L1398.9,2138.0 L1401.8,2138.0 L1404.7,2138.0 L1407.6,2138.0 L1410.5,2138.0 L1413.4,2138.0 L1416.3,2138.0 L1419.2,2138.0 L1422.2,2138.0 L1425.1,2138.0 L1428.0,2138.0 L1430.9,2138.0 L1433.8,2138.0 L1436.7,2138.0 L1439.6,2138.0 L1442.5,2137.9 L1445.4,2137.9 L1448.4,2137.9 L1451.3,2137.8 L1454.2,2137.8 L1457.1,2137.7 L1460.0,2137.6 L1462.9,2137.5 L1465.8,2137.5 L1468.7,2137.4 L1471.6,2137.3 L1474.5,2137.2 L1477.5,2137.1 L1480.4,2137.0 L1483.3,2136.8 L1486.2,2136.7 L1489.1,2136.6 L1492.0,2136.5 L1494.9,2136.3 L1497.8,2136.2 L1500.7,2136.0 L1503.7,2135.9 L1506.6,2135.7 L1509.5,2135.5 L1512.4,2135.4 L1515.3,2135.2 L1518.2,2135.0 L1521.1,2134.8 L1524.0,2134.5 L1526.9,2134.3 L1529.9,2134.1 L1532.8,2133.8 L1535.7,2133.5 L1538.6,2133.3 L1541.5,2133.0 L1544.4,2132.7 L1547.3,2132.3 L1550.2,2132.0 L1553.1,2131.7 L1556.1,2131.4 L1559.0,2131.0 L1561.9,2130.7 L1564.8,2130.3 L1567.7,2129.9 L1570.6,2129.5 L1573.5,2129.2 L1576.4,2128.8 L1579.3,2128.4 L1582.3,2127.9 L1585.2,2127.5 L1588.1,2127.1 L1591.0,2126.7 L1593.9,2126.2 L1596.8,2125.8 L1599.7,2125.3 L1602.6,2124.8 L1605.5,2124.3 L1608.5,2123.8 L1611.4,2123.3 L1614.3,2122.8 L1617.2,2122.3 L1620.1,2121.7 L1623.0,2121.1 L1625.9,2120.6 L1628.8,2120.0 L1631.7,2119.4 L1634.7,2118.8 L1637.6,2118.1 L1640.5,2117.5 L1643.4,2116.8 L1646.3,2116.1 L1649.2,2115.4 L1652.1,2114.7 L1655.0,2113.9 L1657.9,2113.2 L1660.9,2112.4 L1663.8,2111.7 L1666.7,2110.9 L1669.6,2110.1 L1672.5,2109.3 L1675.4,2108.5 L1678.3,2107.7 L1681.2,2106.9 L1684.1,2106.0 L1687.1,2105.2 L1690.0,2104.3 L1692.9,2103.5 L1695.8,2102.6 L1698.7,2101.7 L1701.6,2100.8 L1704.5,2099.9 L1707.4,2098.9 L1710.3,2098.0 L1713.3,2097.0 L1716.2,2096.0 L1719.1,2095.0 L1722.0,2094.0 L1724.9,2093.0 L1727.8,2091.9 L1730.7,2090.9 L1733.6,2089.8 L1736.5,2088.7 L1739.5,2087.6 L1742.4,2086.5 L1745.3,2085.4 L1748.2,2084.3 L1751.1,2083.1 L1754.0,2082.0 L1756.9,2080.8 L1759.8,2079.7 L1762.7,2078.5 L1765.7,2077.3 L1768.6,2076.1 L1771.5,2074.9 L1774.4,2073.7 L1777.3,2072.5 L1780.2,2071.3 L1783.1,2070.0 L1786.0,2068.8 L1788.9,2067.5 L1791.8,2066.2 L1794.8,2064.9 L1797.7,2063.5 L1800.6,2062.2 L1803.5,2060.8 L1806.4,2059.4 L1809.3,2058.0 L1812.2,2056.6 L1815.1,2055.2 L1818.0,2053.7 L1821.0,2052.2 L1823.9,2050.7 L1826.8,2049.2 L1829.7,2047.6 L1832.6,2046.0 L1835.5,2044.4 L1838.4,2042.8 L1841.3,2041.1 L1844.2,2039.4 L1847.2,2037.7 L1850.1,2035.9 L1853.0,2034.2 L1855.9,2032.4 L1858.8,2030.5 L1861.7,2028.7 L1864.6,2026.8 L1867.5,2024.9 L1870.4,2022.9 L1873.4,2021.0 L1876.3,2019.0 L1879.2,2017.0 L1882.1,2014.9 L1885.0,2012.8 L1887.9,2010.7 L1890.8,2008.6 L1893.7,2006.4 L1896.6,2004.2 L1899.6,2001.9 L1902.5,1999.6 L1905.4,1997.3 L1908.3,1995.0 L1911.2,1992.6 L1914.1,1990.1 L1917.0,1987.7 L1919.9,1985.2 L1922.8,1982.7 L1925.8,1980.1 L1928.7,1977.5 L1931.6,1974.9 L1934.5,1972.2 L1937.4,1969.5 L1940.3,1966.8 L1943.2,1964.0 L1946.1,1961.2 L1949.0,1958.3 L1952.0,1955.5 L1954.9,1952.5 L1957.8,1949.6 L1960.7,1946.5 L1963.6,1943.5 L1966.5,1940.4 L1969.4,1937.3 L1972.3,1934.1 L1975.2,1930.9 L1978.2,1927.7 L1981.1,1924.4 L1984.0,1921.1 L1986.9,1917.7 L1989.8,1914.3 L1992.7,1910.9 L1995.6,1907.4 L1998.5,1903.9 L2001.4,1900.3 L2004.4,1896.7 L2007.3,1893.0 L2010.2,1889.3 L2013.1,1885.5 L2016.0,1881.7 L2018.9,1877.8 L2021.8,1873.9 L2024.7,1870.0 L2027.6,1866.0 L2030.6,1862.0 L2033.5,1857.9 L2036.4,1853.8 L2039.3,1849.6 L2042.2,1845.4 L2045.1,1841.2 L2048.0,1836.9 L2050.9,1832.6 L2053.8,1828.3 L2056.8,1823.9 L2059.7,1819.4 L2062.6,1815.0 L2065.5,1810.4 L2068.4,1805.9 L2071.3,1801.3 L2074.2,1796.6 L2077.1,1791.9 L2080.0,1787.2 L2082.9,1782.4 L2085.9,1777.6 L2088.8,1772.8 L2091.7,1767.9 L2094.6,1763.0 L2097.5,1758.0 L2100.4,1753.0 L2103.3,1748.0 L2106.2,1742.9 L2109.1,1737.8 L2112.1,1732.7 L2115.0,1727.5 L2117.9,1722.3 L2120.8,1717.0 L2123.7,1711.7 L2126.6,1706.4 L2129.5,1701.0 L2132.4,1695.6 L2135.3,1690.1 L2138.3,1684.6 L2141.2,1679.0 L2144.1,1673.5 L2147.0,1667.9 L2149.9,1662.2 L2152.8,1656.6 L2155.7,1650.9 L2158.6,1645.1 L2161.5,1639.4 L2164.5,1633.5 L2167.4,1627.7 L2170.3,1621.8 L2173.2,1615.9 L2176.1,1609.9 L2179.0,1603.9 L2181.9,1597.9 L2184.8,1591.8 L2187.7,1585.7 L2190.7,1579.6 L2193.6,1573.4 L2196.5,1567.2 L2199.4,1560.9 L2202.3,1554.6 L2202.3,1554.6" fill="none" stroke="#ffa500" stroke-width="3.0" stroke-linejoin="round" clip-path="url(#cd)"/>
<path d="M1329.0,2138.0 L1331.9,2138.0 L1334.8,2138.0 L1337.7,2138.0 L1340.6,2138.0 L1343.6,2138.0 L1346.5,2138.0 L1349.4,2138.0 L1352.3,2138.0 L1355.2,2138.0 L1358.1,2138.0 L1361.0,2138.0 L1363.9,2138.0 L1366.8,2138.0 L1369.8,2138.0 L1372.7,2138.0 L1375.6,2138.0 L1378.5,2138.0 L1381.4,2138.0 L1384.3,2138.0 L1387.2,2138.0 L1390.1,2138.0 L1393.0,2138.0 L1396.0,2138.0 L1398.9,2138.0 L1401.8,2138.0 L1404.7,2138.0 L1407.6,2138.0 L1410.5,2138.0 L1413.4,2138.0 L1416.3,2138.0 L1419.2,2138.0 L1422.2,2138.0 L1425.1,2138.0 L1428.0,2138.0 L1430.9,2138.0 L1433.8,2138.0 L1436.7,2138.0 L1439.6,2138.0 L1442.5,2137.9 L1445.4,2137.9 L1448.4,2137.8 L1451.3,2137.8 L1454.2,2137.7 L1457.1,2137.6 L1460.0,2137.5 L1462.9,2137.3 L1465.8,2137.2 L1468.7,2137.0 L1471.6,2136.9 L1474.5,2136.7 L1477.5,2136.5 L1480.4,2136.3 L1483.3,2136.1 L1486.2,2135.8 L1489.1,2135.5 L1492.0,2135.2 L1494.9,2134.9 L1497.8,2134.5 L1500.7,2134.2 L1503.7,2133.7 L1506.6,2133.3 L1509.5,2132.8 L1512.4,2132.3 L1515.3,2131.8 L1518.2,2131.3 L1521.1,2130.7 L1524.0,2130.1 L1526.9,2129.5 L1529.9,2128.9 L1532.8,2128.2 L1535.7,2127.5 L1538.6,2126.9 L1541.5,2126.2 L1544.4,2125.4 L1547.3,2124.7 L1550.2,2123.9 L1553.1,2123.2 L1556.1,2122.4 L1559.0,2121.5 L1561.9,2120.7 L1564.8,2119.8 L1567.7,2118.9 L1570.6,2117.9 L1573.5,2117.0 L1576.4,2116.0 L1579.3,2114.9 L1582.3,2113.9 L1585.2,2112.7 L1588.1,2111.6 L1591.0,2110.3 L1593.9,2109.1 L1596.8,2107.8 L1599.7,2106.5 L1602.6,2105.1 L1605.5,2103.7 L1608.5,2102.3 L1611.4,2100.8 L1614.3,2099.3 L1617.2,2097.8 L1620.1,2096.3 L1623.0,2094.7 L1625.9,2093.1 L1628.8,2091.5 L1631.7,2089.9 L1634.7,2088.3 L1637.6,2086.6 L1640.5,2085.0 L1643.4,2083.3 L1646.3,2081.6 L1649.2,2079.9 L1652.1,2078.1 L1655.0,2076.4 L1657.9,2074.6 L1660.9,2072.8 L1663.8,2071.0 L1666.7,2069.1 L1669.6,2067.2 L1672.5,2065.3 L1675.4,2063.3 L1678.3,2061.4 L1681.2,2059.3 L1684.1,2057.3 L1687.1,2055.2 L1690.0,2053.1 L1692.9,2050.9 L1695.8,2048.7 L1698.7,2046.5 L1701.6,2044.3 L1704.5,2042.0 L1707.4,2039.7 L1710.3,2037.3 L1713.3,2034.9 L1716.2,2032.5 L1719.1,2030.0 L1722.0,2027.6 L1724.9,2025.1 L1727.8,2022.6 L1730.7,2020.1 L1733.6,2017.5 L1736.5,2015.0 L1739.5,2012.4 L1742.4,2009.9 L1745.3,2007.3 L1748.2,2004.7 L1751.1,2002.1 L1754.0,1999.4 L1756.9,1996.8 L1759.8,1994.1 L1762.7,1991.5 L1765.7,1988.8 L1768.6,1986.1 L1771.5,1983.3 L1774.4,1980.5 L1777.3,1977.7 L1780.2,1974.9 L1783.1,1972.1 L1786.0,1969.2 L1788.9,1966.2 L1791.8,1963.3 L1794.8,1960.3 L1797.7,1957.4 L1800.6,1954.3 L1803.5,1951.3 L1806.4,1948.2 L1809.3,1945.1 L1812.2,1942.0 L1815.1,1938.9 L1818.0,1935.8 L1821.0,1932.7 L1823.9,1929.6 L1826.8,1926.4 L1829.7,1923.3 L1832.6,1920.1 L1835.5,1917.0 L1838.4,1913.9 L1841.3,1910.7 L1844.2,1907.6 L1847.2,1904.4 L1850.1,1901.3 L1853.0,1898.1 L1855.9,1894.9 L1858.8,1891.8 L1861.7,1888.6 L1864.6,1885.4 L1867.5,1882.2 L1870.4,1878.9 L1873.4,1875.7 L1876.3,1872.4 L1879.2,1869.1 L1882.1,1865.8 L1885.0,1862.5 L1887.9,1859.1 L1890.8,1855.7 L1893.7,1852.3 L1896.6,1848.9 L1899.6,1845.4 L1902.5,1841.9 L1905.4,1838.3 L1908.3,1834.7 L1911.2,1831.1 L1914.1,1827.4 L1917.0,1823.7 L1919.9,1820.0 L1922.8,1816.2 L1925.8,1812.4 L1928.7,1808.6 L1931.6,1804.8 L1934.5,1800.9 L1937.4,1796.9 L1940.3,1793.0 L1943.2,1789.0 L1946.1,1785.0 L1949.0,1780.9 L1952.0,1776.8 L1954.9,1772.7 L1957.8,1768.6 L1960.7,1764.4 L1963.6,1760.3 L1966.5,1756.0 L1969.4,1751.8 L1972.3,1747.5 L1975.2,1743.3 L1978.2,1738.9 L1981.1,1734.6 L1984.0,1730.2 L1986.9,1725.8 L1989.8,1721.4 L1992.7,1716.9 L1995.6,1712.5 L1998.5,1707.9 L2001.4,1703.4 L2004.4,1698.8 L2007.3,1694.2 L2010.2,1689.6 L2013.1,1684.9 L2016.0,1680.2 L2018.9,1675.5 L2021.8,1670.7 L2024.7,1665.9 L2027.6,1661.0 L2030.6,1656.1 L2033.5,1651.2 L2036.4,1646.2 L2039.3,1641.2 L2042.2,1636.2 L2045.1,1631.1 L2048.0,1626.0 L2050.9,1620.8 L2053.8,1615.6 L2056.8,1610.4 L2059.7,1605.1 L2062.6,1599.8 L2065.5,1594.5 L2068.4,1589.2 L2071.3,1583.8 L2074.2,1578.4 L2077.1,1573.0 L2080.0,1567.5 L2082.9,1562.0 L2085.9,1556.5 L2088.8,1551.0 L2091.7,1545.4 L2094.6,1539.8 L2097.5,1534.2 L2100.4,1528.5 L2103.3,1522.8 L2106.2,1517.1 L2109.1,1511.4 L2112.1,1505.6 L2115.0,1499.8 L2117.9,1493.9 L2120.8,1488.1 L2123.7,1482.2 L2126.6,1476.2 L2129.5,1470.3 L2132.4,1464.3 L2135.3,1458.2 L2138.3,1452.2 L2141.2,1446.1 L2144.1,1440.0 L2147.0,1433.8 L2149.9,1427.6 L2152.8,1421.4 L2155.7,1415.2 L2158.6,1408.9 L2161.5,1402.6 L2164.5,1396.3 L2167.4,1389.9 L2170.3,1383.5 L2173.2,1377.1 L2176.1,1370.6 L2179.0,1364.2 L2181.9,1357.6 L2184.8,1351.1 L2187.7,1344.5 L2190.7,1337.9 L2193.6,1331.3 L2196.5,1324.6 L2199.4,1317.9 L2202.3,1311.2 L2202.3,1311.2" fill="none" stroke="#8b0000" stroke-width="3.0" stroke-linejoin="round" clip-path="url(#cd)"/>
<path d="M1329.0,2138.0 L1331.9,2138.0 L1334.8,2138.0 L1337.7,2138.0 L1340.6,2138.0 L1343.6,2138.0 L1346.5,2138.0 L1349.4,2138.0 L1352.3,2138.0 L1355.2,2138.0 L1358.1,2138.0 L1361.0,2138.0 L1363.9,2138.0 L1366.8,2138.0 L1369.8,2138.0 L1372.7,2138.0 L1375.6,2138.0 L1378.5,2138.0 L1381.4,2138.0 L1384.3,2138.0 L1387.2,2138.0 L1390.1,2138.0 L1393.0,2138.0 L1396.0,2138.0 L1398.9,2138.0 L1401.8,2138.0 L1404.7,2138.0 L1407.6,2138.0 L1410.5,2138.0 L1413.4,2138.0 L1416.3,2138.0 L1419.2,2138.0 L1422.2,2138.0 L1425.1,2138.0 L1428.0,2138.0 L1430.9,2138.0 L1433.8,2138.0 L1436.7,2138.0 L1439.6,2138.0 L1442.5,2137.9 L1445.4,2137.9 L1448.4,2137.8 L1451.3,2137.8 L1454.2,2137.7 L1457.1,2137.6 L1460.0,2137.5 L1462.9,2137.4 L1465.8,2137.3 L1468.7,2137.2 L1471.6,2137.1 L1474.5,2136.9 L1477.5,2136.8 L1480.4,2136.6 L1483.3,2136.4 L1486.2,2136.2 L1489.1,2136.0 L1492.0,2135.8 L1494.9,2135.6 L1497.8,2135.3 L1500.7,2135.1 L1503.7,2134.8 L1506.6,2134.4 L1509.5,2134.1 L1512.4,2133.8 L1515.3,2133.4 L1518.2,2133.0 L1521.1,2132.6 L1524.0,2132.2 L1526.9,2131.8 L1529.9,2131.4 L1532.8,2130.9 L1535.7,2130.5 L1538.6,2130.0 L1541.5,2129.5 L1544.4,2129.0 L1547.3,2128.5 L1550.2,2127.9 L1553.1,2127.4 L1556.1,2126.8 L1559.0,2126.2 L1561.9,2125.6 L1564.8,2125.0 L1567.7,2124.4 L1570.6,2123.7 L1573.5,2123.1 L1576.4,2122.4 L1579.3,2121.6 L1582.3,2120.9 L1585.2,2120.1 L1588.1,2119.3 L1591.0,2118.5 L1593.9,2117.6 L1596.8,2116.8 L1599.7,2115.9 L1602.6,2115.0 L1605.5,2114.1 L1608.5,2113.1 L1611.4,2112.1 L1614.3,2111.1 L1617.2,2110.1 L1620.1,2109.1 L1623.0,2108.1 L1625.9,2107.0 L1628.8,2105.9 L1631.7,2104.8 L1634.7,2103.7 L1637.6,2102.6 L1640.5,2101.4 L1643.4,2100.3 L1646.3,2099.1 L1649.2,2097.9 L1652.1,2096.7 L1655.0,2095.5 L1657.9,2094.2 L1660.9,2093.0 L1663.8,2091.7 L1666.7,2090.4 L1669.6,2089.1 L1672.5,2087.7 L1675.4,2086.4 L1678.3,2085.0 L1681.2,2083.6 L1684.1,2082.2 L1687.1,2080.7 L1690.0,2079.2 L1692.9,2077.7 L1695.8,2076.2 L1698.7,2074.7 L1701.6,2073.1 L1704.5,2071.5 L1707.4,2069.9 L1710.3,2068.3 L1713.3,2066.6 L1716.2,2064.9 L1719.1,2063.2 L1722.0,2061.5 L1724.9,2059.7 L1727.8,2058.0 L1730.7,2056.2 L1733.6,2054.5 L1736.5,2052.7 L1739.5,2050.9 L1742.4,2049.1 L1745.3,2047.3 L1748.2,2045.4 L1751.1,2043.6 L1754.0,2041.7 L1756.9,2039.8 L1759.8,2038.0 L1762.7,2036.1 L1765.7,2034.2 L1768.6,2032.2 L1771.5,2030.3 L1774.4,2028.3 L1777.3,2026.3 L1780.2,2024.3 L1783.1,2022.3 L1786.0,2020.2 L1788.9,2018.2 L1791.8,2016.1 L1794.8,2014.0 L1797.7,2011.8 L1800.6,2009.7 L1803.5,2007.5 L1806.4,2005.3 L1809.3,2003.1 L1812.2,2000.9 L1815.1,1998.6 L1818.0,1996.4 L1821.0,1994.1 L1823.9,1991.8 L1826.8,1989.5 L1829.7,1987.2 L1832.6,1984.8 L1835.5,1982.5 L1838.4,1980.1 L1841.3,1977.7 L1844.2,1975.3 L1847.2,1972.9 L1850.1,1970.5 L1853.0,1968.0 L1855.9,1965.6 L1858.8,1963.1 L1861.7,1960.6 L1864.6,1958.1 L1867.5,1955.5 L1870.4,1953.0 L1873.4,1950.4 L1876.3,1947.8 L1879.2,1945.2 L1882.1,1942.5 L1885.0,1939.8 L1887.9,1937.1 L1890.8,1934.3 L1893.7,1931.6 L1896.6,1928.7 L1899.6,1925.9 L1902.5,1923.0 L1905.4,1920.1 L1908.3,1917.2 L1911.2,1914.2 L1914.1,1911.2 L1917.0,1908.1 L1919.9,1905.0 L1922.8,1901.9 L1925.8,1898.7 L1928.7,1895.5 L1931.6,1892.3 L1934.5,1889.1 L1937.4,1885.8 L1940.3,1882.4 L1943.2,1879.1 L1946.1,1875.7 L1949.0,1872.2 L1952.0,1868.8 L1954.9,1865.3 L1957.8,1861.8 L1960.7,1858.2 L1963.6,1854.6 L1966.5,1851.0 L1969.4,1847.3 L1972.3,1843.6 L1975.2,1839.9 L1978.2,1836.1 L1981.1,1832.3 L1984.0,1828.5 L1986.9,1824.7 L1989.8,1820.8 L1992.7,1816.8 L1995.6,1812.9 L1998.5,1808.9 L2001.4,1804.8 L2004.4,1800.8 L2007.3,1796.6 L2010.2,1792.5 L2013.1,1788.3 L2016.0,1784.1 L2018.9,1779.8 L2021.8,1775.5 L2024.7,1771.1 L2027.6,1766.7 L2030.6,1762.2 L2033.5,1757.8 L2036.4,1753.2 L2039.3,1748.7 L2042.2,1744.1 L2045.1,1739.4 L2048.0,1734.8 L2050.9,1730.0 L2053.8,1725.3 L2056.8,1720.5 L2059.7,1715.7 L2062.6,1710.8 L2065.5,1705.9 L2068.4,1701.0 L2071.3,1696.0 L2074.2,1691.0 L2077.1,1686.0 L2080.0,1680.9 L2082.9,1675.8 L2085.9,1670.6 L2088.8,1665.4 L2091.7,1660.2 L2094.6,1655.0 L2097.5,1649.7 L2100.4,1644.4 L2103.3,1639.0 L2106.2,1633.7 L2109.1,1628.2 L2112.1,1622.8 L2115.0,1617.3 L2117.9,1611.8 L2120.8,1606.2 L2123.7,1600.7 L2126.6,1595.0 L2129.5,1589.4 L2132.4,1583.7 L2135.3,1577.9 L2138.3,1572.2 L2141.2,1566.4 L2144.1,1560.5 L2147.0,1554.7 L2149.9,1548.8 L2152.8,1542.8 L2155.7,1536.9 L2158.6,1530.9 L2161.5,1524.9 L2164.5,1518.8 L2167.4,1512.7 L2170.3,1506.6 L2173.2,1500.4 L2176.1,1494.2 L2179.0,1488.0 L2181.9,1481.7 L2184.8,1475.4 L2187.7,1469.1 L2190.7,1462.7 L2193.6,1456.3 L2196.5,1449.9 L2199.4,1443.4 L2202.3,1436.9 L2202.3,1436.9" fill="none" stroke="#0b6e0b" stroke-width="3.0" stroke-linejoin="round" clip-path="url(#cd)"/>
<text x="168.6" y="79.9" font-size="60.30" ><tspan dy="0.0" font-size="60.30">1M: RDF - {Li</tspan><tspan dy="-21.1" font-size="38.59">+</tspan><tspan dy="21.1" font-size="60.30">BF</tspan><tspan dy="19.9" font-size="34.37">4</tspan><tspan dy="-41.0" font-size="38.59">—</tspan><tspan dy="21.1" font-size="60.30">}(EC)</tspan><tspan dy="19.9" font-size="34.37">1</tspan><tspan dy="-19.9" font-size="60.30">(DMC)</tspan><tspan dy="19.9" font-size="34.37">1</tspan></text>
<text x="1324.9" y="79.9" font-size="60.30" ><tspan dy="0.0" font-size="60.30">1M: N(r) - {Li</tspan><tspan dy="-21.1" font-size="38.59">+</tspan><tspan dy="21.1" font-size="60.30">BF</tspan><tspan dy="19.9" font-size="34.37">4</tspan><tspan dy="-41.0" font-size="38.59">—</tspan><tspan dy="21.1" font-size="60.30">}(EC)</tspan><tspan dy="19.9" font-size="34.37">1</tspan><tspan dy="-19.9" font-size="60.30">(DMC)</tspan><tspan dy="19.9" font-size="34.37">1</tspan></text>
<text x="231.9" y="1228.5" font-size="61.10" ><tspan dy="0.0" font-size="61.10">1M: RDF - BF</tspan><tspan dy="20.2" font-size="34.83">4</tspan><tspan dy="-41.5" font-size="32.38">—</tspan><tspan dx="8.0" dy="21.4" font-size="61.10">(EC)</tspan><tspan dy="20.2" font-size="34.83">1</tspan><tspan dy="-20.2" font-size="61.10">(DMC)</tspan><tspan dy="20.2" font-size="34.83">1</tspan></text>
<text x="1381.2" y="1240.0" font-size="61.10" ><tspan dy="0.0" font-size="61.10">1M: N(r) - BF</tspan><tspan dy="20.2" font-size="34.83">4</tspan><tspan dy="-41.5" font-size="32.38">—</tspan><tspan dx="8.0" dy="21.4" font-size="61.10">(EC)</tspan><tspan dy="20.2" font-size="34.83">1</tspan><tspan dy="-20.2" font-size="61.10">(DMC)</tspan><tspan dy="20.2" font-size="34.83">1</tspan></text>
<text x="101.2" y="127.0" font-size="62.00" ><tspan dy="0.0" font-size="62.00">90</tspan></text>
<text x="97.5" y="303.5" font-size="62.00" ><tspan dy="0.0" font-size="62.00">72</tspan></text>
<text x="94.6" y="480.0" font-size="62.00" ><tspan dy="0.0" font-size="62.00">54</tspan></text>
<text x="101.8" y="649.0" font-size="62.00" ><tspan dy="0.0" font-size="62.00">36</tspan></text>
<text x="97.8" y="826.0" font-size="62.00" ><tspan dy="0.0" font-size="62.00">18</tspan></text>
<text x="129.1" y="988.0" font-size="62.00" ><tspan dy="0.0" font-size="62.00">0</tspan></text>
<text x="1273.2" y="126.0" font-size="62.00" ><tspan dy="0.0" font-size="62.00">8</tspan></text>
<text x="1273.4" y="301.0" font-size="62.00" ><tspan dy="0.0" font-size="62.00">6</tspan></text>
<text x="1275.1" y="476.0" font-size="62.00" ><tspan dy="0.0" font-size="62.00">5</tspan></text>
<text x="1274.9" y="651.0" font-size="62.00" ><tspan dy="0.0" font-size="62.00">3</tspan></text>
<text x="1272.4" y="826.5" font-size="62.00" ><tspan dy="0.0" font-size="62.00">2</tspan></text>
<text x="1275.2" y="988.0" font-size="62.00" ><tspan dy="0.0" font-size="62.00">0</tspan></text>
<text x="83.5" y="1275.5" font-size="62.00" ><tspan dy="0.0" font-size="62.00">1.6</tspan></text>
<text x="81.4" y="1452.0" font-size="62.00" ><tspan dy="0.0" font-size="62.00">1.3</tspan></text>
<text x="81.0" y="1626.0" font-size="62.00" ><tspan dy="0.0" font-size="62.00">1.0</tspan></text>
<text x="81.6" y="1800.5" font-size="62.00" ><tspan dy="0.0" font-size="62.00">0.6</tspan></text>
<text x="80.7" y="1976.5" font-size="62.00" ><tspan dy="0.0" font-size="62.00">0.3</tspan></text>
<text x="127.5" y="2136.0" font-size="62.00" ><tspan dy="0.0" font-size="62.00">0</tspan></text>
<text x="1244.7" y="1276.0" font-size="62.00" ><tspan dy="0.0" font-size="62.00">16</tspan></text>
<text x="1242.2" y="1454.5" font-size="62.00" ><tspan dy="0.0" font-size="62.00">13</tspan></text>
<text x="1244.2" y="1626.0" font-size="62.00" ><tspan dy="0.0" font-size="62.00">10</tspan></text>
<text x="1273.4" y="1801.0" font-size="62.00" ><tspan dy="0.0" font-size="62.00">6</tspan></text>
<text x="1273.7" y="1977.5" font-size="62.00" ><tspan dy="0.0" font-size="62.00">3</tspan></text>
<text x="1275.2" y="2136.0" font-size="62.00" ><tspan dy="0.0" font-size="62.00">0</tspan></text>
<text x="195.8" y="1059.0" font-size="62.00" ><tspan dy="0.0" font-size="62.00">1.5</tspan></text>
<text x="415.0" y="1059.0" font-size="62.00" ><tspan dy="0.0" font-size="62.00">3</tspan></text>
<text x="573.6" y="1059.0" font-size="62.00" ><tspan dy="0.0" font-size="62.00">4.5</tspan></text>
<text x="787.2" y="1059.0" font-size="62.00" ><tspan dy="0.0" font-size="62.00">6</tspan></text>
<text x="945.0" y="1059.0" font-size="62.00" ><tspan dy="0.0" font-size="62.00">7.5</tspan></text>
<text x="1308.5" y="1058.6" font-size="62.00" ><tspan dy="0.0" font-size="62.00">1</tspan></text>
<text x="1425.7" y="1058.6" font-size="62.00" ><tspan dy="0.0" font-size="62.00">1.5</tspan></text>
<text x="1600.3" y="1058.6" font-size="62.00" ><tspan dy="0.0" font-size="62.00">2</tspan></text>
<text x="1717.7" y="1058.6" font-size="62.00" ><tspan dy="0.0" font-size="62.00">2.5</tspan></text>
<text x="1891.4" y="1058.6" font-size="62.00" ><tspan dy="0.0" font-size="62.00">3</tspan></text>
<text x="2010.3" y="1058.6" font-size="62.00" ><tspan dy="0.0" font-size="62.00">3.5</tspan></text>
<text x="2184.0" y="1058.6" font-size="62.00" ><tspan dy="0.0" font-size="62.00">4</tspan></text>
<text x="261.5" y="2205.6" font-size="62.00" ><tspan dy="0.0" font-size="62.00">2</tspan></text>
<text x="455.9" y="2205.6" font-size="62.00" ><tspan dy="0.0" font-size="62.00">4</tspan></text>
<text x="648.8" y="2205.6" font-size="62.00" ><tspan dy="0.0" font-size="62.00">6</tspan></text>
<text x="844.7" y="2205.6" font-size="62.00" ><tspan dy="0.0" font-size="62.00">8</tspan></text>
<text x="1019.9" y="2205.6" font-size="62.00" ><tspan dy="0.0" font-size="62.00">10</tspan></text>
<text x="1406.7" y="2205.8" font-size="62.00" ><tspan dy="0.0" font-size="62.00">2</tspan></text>
<text x="1601.5" y="2205.8" font-size="62.00" ><tspan dy="0.0" font-size="62.00">4</tspan></text>
<text x="1794.2" y="2205.8" font-size="62.00" ><tspan dy="0.0" font-size="62.00">6</tspan></text>
<text x="1990.2" y="2205.8" font-size="62.00" ><tspan dy="0.0" font-size="62.00">8</tspan></text>
<text x="2164.7" y="2205.8" font-size="62.00" ><tspan dy="0.0" font-size="62.00">10</tspan></text>
<text x="563.9" y="1130.2" font-size="61.50" ><tspan dy="0.0" font-size="61.50">r,</tspan></text>
<text transform="translate(615.6,1130.2) scale(0.909,1)" font-size="61.50">Å</text>
<text x="1708.1" y="1130.0" font-size="61.50" ><tspan dy="0.0" font-size="61.50">r,</tspan></text>
<text transform="translate(1758.8,1130.0) scale(0.936,1)" font-size="61.50">Å</text>
<text x="563.9" y="2277.8" font-size="61.50" ><tspan dy="0.0" font-size="61.50">r,</tspan></text>
<text transform="translate(615.6,2277.8) scale(0.909,1)" font-size="61.50">Å</text>
<text x="1707.0" y="2277.7" font-size="61.50" ><tspan dy="0.0" font-size="61.50">r,</tspan></text>
<text transform="translate(1758.8,2277.7) scale(0.936,1)" font-size="61.50">Å</text>
<text transform="translate(68.5,630.6) rotate(-90)" font-size="61.50">g(R)</text>
<text transform="translate(1237.3,644.5) rotate(-90)" font-size="61.50">N(R)</text>
<text transform="translate(68.1,1743.8) rotate(-90)" font-size="61.50">g(R)</text>
<text transform="translate(1237.3,1750.7) rotate(-90)" font-size="61.50">N(R)</text>
<text x="43.6" y="1130.0" font-size="91.00" ><tspan dy="0.0" font-size="91.00">(a)</tspan></text>
<text x="1183.9" y="1130.0" font-size="91.00" ><tspan dy="0.0" font-size="91.00">(b)</tspan></text>
<text x="47.8" y="2275.7" font-size="91.00" ><tspan dy="0.0" font-size="91.00">(c)</tspan></text>
<text x="1184.9" y="2275.7" font-size="91.00" ><tspan dy="0.0" font-size="91.00">(d)</tspan></text>
<text x="528.5" y="180.7" font-size="60.50" ><tspan dy="0.0" font-size="60.50">Li</tspan><tspan dy="-21.2" font-size="38.72">+</tspan><tspan dy="21.2" font-size="60.50">-O=C-EC</tspan></text>
<line x1="871.1" y1="166" x2="998.1" y2="166" stroke="#ffa500" stroke-width="3.4" stroke-dasharray="18.2,18.2"/>
<text x="519.3" y="253.9" font-size="60.50" ><tspan dy="0.0" font-size="60.50">Li</tspan><tspan dy="-21.2" font-size="38.72">+</tspan><tspan dy="21.2" font-size="60.50">-COC-EC</tspan></text>
<line x1="871.1" y1="233" x2="998.1" y2="233" stroke="#ffa500" stroke-width="3.4"/>
<text x="468.1" y="326.0" font-size="60.50" ><tspan dy="0.0" font-size="60.50">Li</tspan><tspan dy="-21.2" font-size="38.72">+</tspan><tspan dy="21.2" font-size="60.50">-O=C-DMC</tspan></text>
<line x1="871.1" y1="309" x2="998.1" y2="309" stroke="#8b0000" stroke-width="3.4" stroke-dasharray="18.2,18.2"/>
<text x="458.9" y="398.9" font-size="60.50" ><tspan dy="0.0" font-size="60.50">Li</tspan><tspan dy="-21.2" font-size="38.72">+</tspan><tspan dy="21.2" font-size="60.50">-COC-DMC</tspan></text>
<line x1="871.1" y1="381.8" x2="998.1" y2="381.8" stroke="#8b0000" stroke-width="3.4"/>
<text x="566.0" y="472.7" font-size="60.50" ><tspan dy="0.0" font-size="60.50">Li</tspan><tspan dy="-21.2" font-size="38.72">+</tspan><tspan dy="21.2" font-size="60.50">-F-BF</tspan><tspan dy="20.0" font-size="34.48">3</tspan><tspan dy="-41.1" font-size="38.72">—</tspan></text>
<line x1="871.1" y1="454.9" x2="998.1" y2="454.9" stroke="#0b6e0b" stroke-width="3.4"/>
<text x="1441.5" y="201.0" font-size="60.50" ><tspan dy="0.0" font-size="60.50">Li</tspan><tspan dy="-21.2" font-size="38.72">+</tspan><tspan dy="21.2" font-size="60.50">-O=C-EC</tspan></text>
<line x1="1790.2" y1="184.4" x2="1917.1" y2="184.4" stroke="#ffa500" stroke-width="3.4" stroke-dasharray="18.2,18.2"/>
<text x="1432.3" y="274.0" font-size="60.50" ><tspan dy="0.0" font-size="60.50">Li</tspan><tspan dy="-21.2" font-size="38.72">+</tspan><tspan dy="21.2" font-size="60.50">-COC-EC</tspan></text>
<line x1="1790.2" y1="251.1" x2="1917.1" y2="251.1" stroke="#ffa500" stroke-width="3.4"/>
<text x="1381.1" y="347.0" font-size="60.50" ><tspan dy="0.0" font-size="60.50">Li</tspan><tspan dy="-21.2" font-size="38.72">+</tspan><tspan dy="21.2" font-size="60.50">-O=C-DMC</tspan></text>
<line x1="1790.2" y1="327.3" x2="1917.1" y2="327.3" stroke="#8b0000" stroke-width="3.4" stroke-dasharray="18.2,18.2"/>
<text x="1392.0" y="420.0" font-size="60.50" ><tspan dy="0.0" font-size="60.50">Li</tspan><tspan dy="-21.2" font-size="38.72">+</tspan><tspan dy="21.2" font-size="60.50">COC-DMC</tspan></text>
<line x1="1790.2" y1="399.7" x2="1917.1" y2="399.7" stroke="#8b0000" stroke-width="3.4"/>
<text x="1478.9" y="492.4" font-size="60.50" ><tspan dy="0.0" font-size="60.50">Li</tspan><tspan dy="-21.2" font-size="38.72">+</tspan><tspan dy="21.2" font-size="60.50">-F-BF</tspan><tspan dy="20.0" font-size="34.48">3</tspan><tspan dy="-41.1" font-size="38.72">—</tspan></text>
<line x1="1790.2" y1="472.7" x2="1917.1" y2="472.7" stroke="#0b6e0b" stroke-width="3.4"/>
<text x="611.0" y="1966.2" font-size="61.80" ><tspan dy="0.0" font-size="61.80">BF</tspan><tspan dy="20.4" font-size="35.23">4</tspan><tspan dy="-42.0" font-size="36.46">—</tspan><tspan dx="7.0" dy="21.6" font-size="61.80">-EC</tspan></text>
<line x1="882.2" y1="1945" x2="1012.5" y2="1945" stroke="#ffa500" stroke-width="3.4"/>
<text x="549.3" y="2038.8" font-size="61.80" ><tspan dy="0.0" font-size="61.80">BF</tspan><tspan dy="20.4" font-size="35.23">4</tspan><tspan dy="-42.0" font-size="36.46">—</tspan><tspan dx="7.0" dy="21.6" font-size="61.80">-DMC</tspan></text>
<line x1="882.2" y1="2018.5" x2="1012.5" y2="2018.5" stroke="#8b0000" stroke-width="3.4"/>
<text x="428.2" y="2111.6" font-size="61.80" ><tspan dy="0.0" font-size="61.80">BF</tspan><tspan dy="20.4" font-size="35.23">4</tspan><tspan dy="-42.0" font-size="36.46">—</tspan><tspan dx="7.0" dy="21.6" font-size="61.80">-EC+DMC</tspan></text>
<line x1="882.2" y1="2091.3" x2="1012.5" y2="2091.3" stroke="#0b6e0b" stroke-width="3.4"/>
<text x="1520.1" y="1343.5" font-size="61.80" ><tspan dy="0.0" font-size="61.80">BF</tspan><tspan dy="20.4" font-size="35.23">4</tspan><tspan dy="-42.0" font-size="36.46">—</tspan><tspan dx="7.0" dy="21.6" font-size="61.80">-EC</tspan></text>
<line x1="1794" y1="1324.5" x2="1923.5" y2="1324.5" stroke="#ffa500" stroke-width="3.4"/>
<text x="1458.4" y="1416.0" font-size="61.80" ><tspan dy="0.0" font-size="61.80">BF</tspan><tspan dy="20.4" font-size="35.23">4</tspan><tspan dy="-42.0" font-size="36.46">—</tspan><tspan dx="7.0" dy="21.6" font-size="61.80">-DMC</tspan></text>
<line x1="1794" y1="1397.7" x2="1923.5" y2="1397.7" stroke="#8b0000" stroke-width="3.4"/>
<text x="1337.3" y="1488.1" font-size="61.80" ><tspan dy="0.0" font-size="61.80">BF</tspan><tspan dy="20.4" font-size="35.23">4</tspan><tspan dy="-42.0" font-size="36.46">—</tspan><tspan dx="7.0" dy="21.6" font-size="61.80">-EC+DMC</tspan></text>
<line x1="1794" y1="1470.2" x2="1923.5" y2="1470.2" stroke="#0b6e0b" stroke-width="3.4"/>
</svg></body></html>
